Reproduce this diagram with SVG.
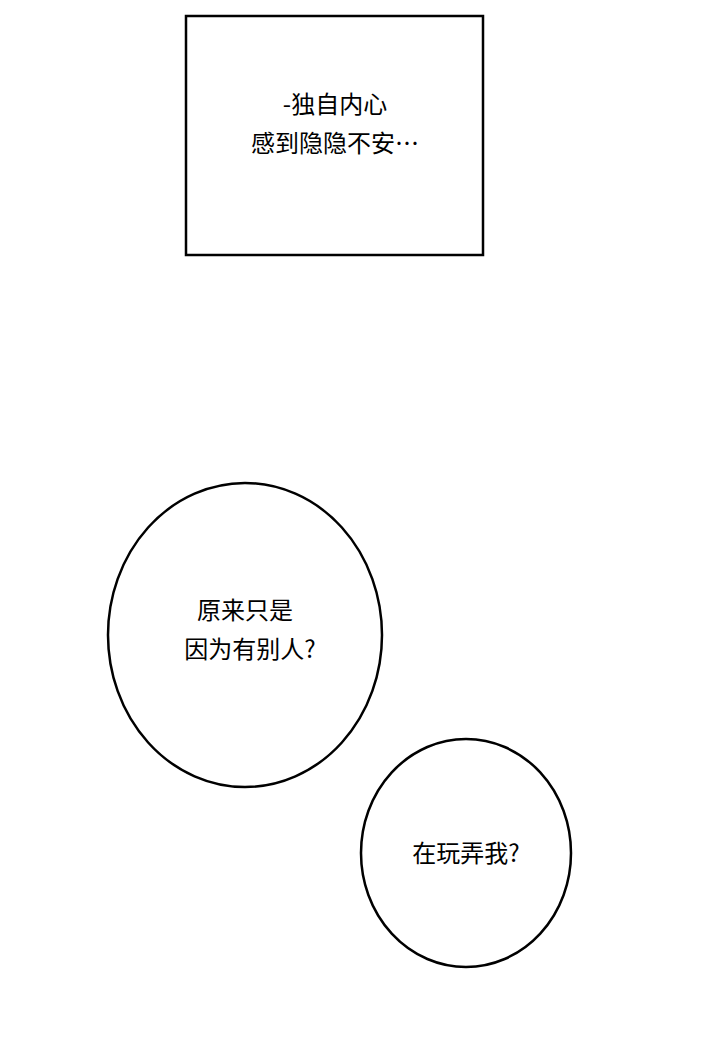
<svg xmlns="http://www.w3.org/2000/svg" width="720" height="1040" viewBox="0 0 720 1040">
<style>
.s{fill:#fff;stroke:#000;stroke-width:2.5}
.t{font-family:"Noto Sans CJK SC","Noto Sans",sans-serif;font-size:24px;fill:#000;text-anchor:middle}
</style>
<rect width="720" height="1040" fill="#fff"/>
<g id="box1"><rect class="s" x="186" y="16" width="297" height="239"/>
<text class="t" x="335" y="113">-独自内心</text><text class="t" x="335" y="152">感到隐隐不安…</text></g>
<g id="bubble1"><ellipse class="s" cx="245" cy="635" rx="137" ry="152"/>
<text class="t" x="245" y="619">原来只是</text><text class="t" x="250" y="658">因为有别人?</text></g>
<g id="bubble2"><ellipse class="s" cx="466" cy="853" rx="105" ry="114"/>
<text class="t" x="466" y="862">在玩弄我?</text></g>
<g id="connectors"/>
</svg>
